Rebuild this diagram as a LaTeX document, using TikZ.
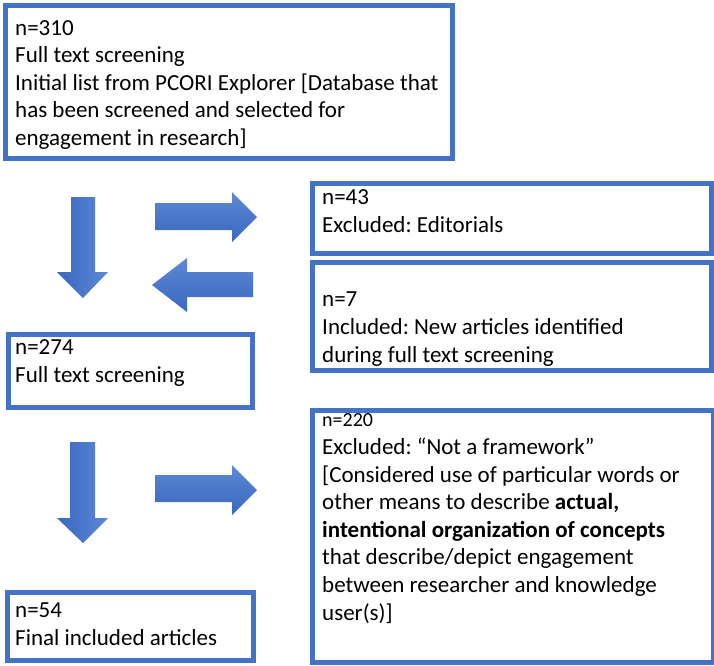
\documentclass[tikz,border=0pt]{standalone}
\usepackage{fontspec}
\setmainfont{Carlito}
\frenchspacing
\definecolor{boxblue}{HTML}{4472C4}
\definecolor{arrdark}{HTML}{3B67BF}
\definecolor{arrlight}{HTML}{5C88D5}
\begin{document}
\begin{tikzpicture}[x=1pt,y=-1pt,
  box/.style={draw=boxblue, line width=5pt, fill=white, inner sep=0pt, anchor=north west},
  txt/.style={anchor=base west, inner sep=0pt, align=left, font=\fontsize{23}{27.6}\selectfont},
  varrow/.style={left color=arrdark, right color=arrlight},
  harrow/.style={top color=arrlight, bottom color=arrdark}]
\useasboundingbox (0,0) rectangle (714,665);
% boxes
\node[box, minimum width=447pt, minimum height=153pt] (b1) at (2.5,2.5) {};
\node[box, minimum width=399pt, minimum height=70pt] (b43) at (309.5,180.5) {};
\node[box, minimum width=399pt, minimum height=108.5pt] (b7) at (309.5,259.5) {};
\node[box, minimum width=244pt, minimum height=72.5pt] (b274) at (5.5,332) {};
\node[box, minimum width=401pt, minimum height=251.5pt] (b220) at (309.5,408) {};
\node[box, minimum width=246pt, minimum height=68pt] (b54) at (4.5,589.5) {};
% texts (anchored at the baseline of the last line)
\node[txt] (t1) at (15,145.5) {n=310\\Full text screening\\Initial list from PCORI Explorer [Database that\\has been screened and selected for\\engagement in research]};
\node[txt] (t43) at (322,232) {n=43\\Excluded: Editorials};
\node[txt] (t7) at (322,362) {n=7\\Included: New articles identified\\during full text screening};
\node[txt] (t274) at (15,382) {n=274\\Full text screening};
\node[txt] (t220) at (322,620) {{\fontsize{20}{27.6}\selectfont n=220}\\Excluded: “Not a framework”\\{}[Considered use of particular words or\\other means to describe \textbf{actual,}\\\textbf{intentional organization of concepts}\\that describe/depict engagement\\between researcher and knowledge\\user(s)]};
\node[txt] (t54) at (15,645) {n=54\\Final included articles};
% block arrows
\shade[varrow] (71,197) -- (95,197) -- (95,272) -- (108,272) -- (83,298) -- (57,272) -- (71,272) -- cycle;
\shade[harrow] (155,203) -- (232,203) -- (232,192) -- (257,217) -- (232,242) -- (232,230) -- (155,230) -- cycle;
\shade[harrow] (253,272) -- (187,272) -- (187,258) -- (152,285) -- (187,312) -- (187,297) -- (253,297) -- cycle;
\shade[varrow] (70,442) -- (95,442) -- (95,518) -- (108,518) -- (83,543) -- (57,518) -- (70,518) -- cycle;
\shade[harrow] (155,475) -- (232,475) -- (232,465) -- (257,490) -- (232,515) -- (232,502) -- (155,502) -- cycle;
\end{tikzpicture}
\end{document}
